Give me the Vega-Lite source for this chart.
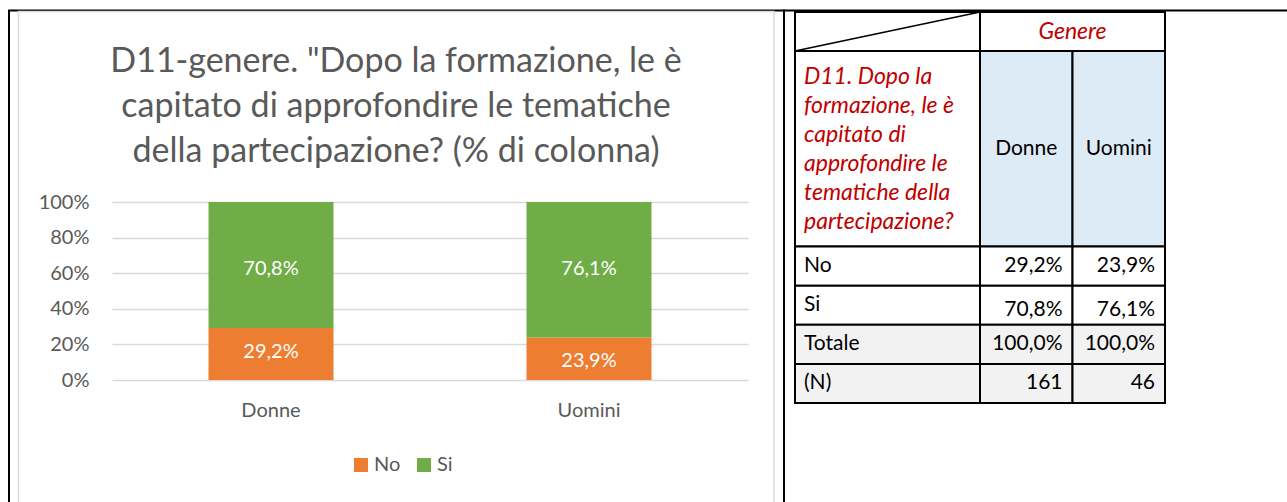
{
  "$schema": "https://vega.github.io/schema/vega-lite/v6.json",
  "width": 1287,
  "height": 502,
  "autosize": "none",
  "padding": 0,
  "background": "white",
  "config": {
    "font": "Lato",
    "view": {"stroke": null},
    "locale": {"number": {"decimal": ",", "thousands": ".", "grouping": [3], "currency": ["€", ""]}}
  },
  "title": {
    "text": ["D11-genere. \"Dopo la formazione, le è", "capitato di approfondire le tematiche", "della partecipazione? (% di colonna)"],
    "anchor": "middle",
    "frame": "group",
    "fontSize": 34,
    "fontWeight": "normal",
    "font": "Lato",
    "color": "#595959",
    "lineHeight": 45,
    "offset": -169,
    "dx": -247.5
  },
  "datasets": {
    "pagina": [{"cella": "grafico"}, {"cella": "tabella"}],
    "grafico": [
      {"genere": "Donne", "risposta": "No", "quota": 0.292},
      {"genere": "Donne", "risposta": "Si", "quota": 0.708},
      {"genere": "Uomini", "risposta": "No", "quota": 0.239},
      {"genere": "Uomini", "risposta": "Si", "quota": 0.761}
    ],
    "celle": [
      {"c0": "L1", "c1": "L2", "r0": "h", "r1": "h", "tipo": "bianco"},
      {"c0": "Donne", "c1": "Uomini", "r0": "h", "r1": "h", "tipo": "bianco"},
      {"c0": "L1", "c1": "L2", "r0": "q1", "r1": "q5", "tipo": "bianco"},
      {"c0": "Donne", "c1": "Donne", "r0": "q1", "r1": "q5", "tipo": "intestazione"},
      {"c0": "Uomini", "c1": "Uomini", "r0": "q1", "r1": "q5", "tipo": "intestazione"},
      {"c0": "L1", "c1": "L2", "r0": "No", "r1": "No", "tipo": "bianco"},
      {"c0": "Donne", "c1": "Donne", "r0": "No", "r1": "No", "tipo": "bianco"},
      {"c0": "Uomini", "c1": "Uomini", "r0": "No", "r1": "No", "tipo": "bianco"},
      {"c0": "L1", "c1": "L2", "r0": "Si", "r1": "Si", "tipo": "bianco"},
      {"c0": "Donne", "c1": "Donne", "r0": "Si", "r1": "Si", "tipo": "bianco"},
      {"c0": "Uomini", "c1": "Uomini", "r0": "Si", "r1": "Si", "tipo": "bianco"},
      {"c0": "L1", "c1": "L2", "r0": "Totale", "r1": "Totale", "tipo": "grigio"},
      {"c0": "Donne", "c1": "Donne", "r0": "Totale", "r1": "Totale", "tipo": "grigio"},
      {"c0": "Uomini", "c1": "Uomini", "r0": "Totale", "r1": "Totale", "tipo": "grigio"},
      {"c0": "L1", "c1": "L2", "r0": "N", "r1": "N", "tipo": "grigio"},
      {"c0": "Donne", "c1": "Donne", "r0": "N", "r1": "N", "tipo": "grigio"},
      {"c0": "Uomini", "c1": "Uomini", "r0": "N", "r1": "N", "tipo": "grigio"}
    ],
    "testi": [
      {"testo": "Genere", "col": "Uomini", "riga": "h", "ruolo": "titolo"},
      {"testo": "D11. Dopo la\nformazione, le è\ncapitato di\napprofondire le\ntematiche della\npartecipazione?", "col": "L1", "riga": "q1", "ruolo": "domanda"},
      {"testo": "Donne", "col": "Donne", "riga": "q3", "ruolo": "intestazione"},
      {"testo": "Uomini", "col": "Uomini", "riga": "q3", "ruolo": "intestazione"},
      {"testo": "No", "col": "L1", "riga": "No", "ruolo": "etichetta"},
      {"testo": "Si", "col": "L1", "riga": "Si", "ruolo": "etichetta"},
      {"testo": "Totale", "col": "L1", "riga": "Totale", "ruolo": "etichetta"},
      {"testo": "(N)", "col": "L1", "riga": "N", "ruolo": "etichetta"},
      {"testo": "29,2%", "col": "Donne", "riga": "No", "ruolo": "valore"},
      {"testo": "23,9%", "col": "Uomini", "riga": "No", "ruolo": "valore"},
      {"testo": "70,8%", "col": "Donne", "riga": "Si", "ruolo": "valore"},
      {"testo": "76,1%", "col": "Uomini", "riga": "Si", "ruolo": "valore"},
      {"testo": "100,0%", "col": "Donne", "riga": "Totale", "ruolo": "valore"},
      {"testo": "100,0%", "col": "Uomini", "riga": "Totale", "ruolo": "valore"},
      {"testo": "161", "col": "Donne", "riga": "N", "ruolo": "valore"},
      {"testo": "46", "col": "Uomini", "riga": "N", "ruolo": "valore"}
    ]
  },
  "layer": [
    {
      "data": {"name": "pagina"},
      "layer": [
        {
          "mark": {"type": "rect", "fill": "white", "fillOpacity": 0, "stroke": "black", "strokeWidth": 2},
          "encoding": {
            "x": {"field": "cella", "type": "nominal", "bandPosition": 0, "axis": null, "scale": {"domain": ["grafico", "tabella"], "range": [9, 1559], "paddingInner": 0, "paddingOuter": 0}},
            "x2": {"field": "cella", "bandPosition": 1},
            "y": {"datum": "pagina", "type": "nominal", "bandPosition": 0, "axis": null, "scale": {"domain": ["pagina"], "range": [10.5, 900], "paddingInner": 0, "paddingOuter": 0}},
            "y2": {"datum": "pagina", "bandPosition": 1}
          }
        },
        {
          "transform": [{"filter": "datum.cella === 'grafico'"}],
          "mark": {"type": "rect", "fill": "white", "fillOpacity": 0, "stroke": "#D9D9D9", "strokeWidth": 1.5},
          "encoding": {
            "x": {"field": "cella", "type": "nominal", "bandPosition": 0.0123},
            "x2": {"field": "cella", "bandPosition": 0.9871},
            "y": {"datum": "pagina", "type": "nominal", "bandPosition": 0.0012},
            "y2": {"datum": "pagina", "bandPosition": 1}
          }
        }
      ]
    },
    {
      "data": {"name": "grafico"},
      "layer": [
        {
          "mark": {"type": "bar"},
          "encoding": {
            "x": {
              "field": "genere", "type": "nominal",
              "scale": {"range": [112, 748], "paddingInner": 0.607, "paddingOuter": 0.3035},
              "axis": {"orient": "bottom", "title": null, "domain": false, "ticks": false, "tickSize": 0, "labelPadding": 0, "labelBaseline": "middle", "labelAngle": 0, "labelFontSize": 20, "labelColor": "#595959", "offset": -92, "grid": false}
            },
            "y": {
              "field": "quota", "type": "quantitative", "stack": "zero",
              "scale": {"domain": [0, 1], "range": [380, 202], "nice": false},
              "axis": {"orient": "left", "title": null, "values": [0, 0.2, 0.4, 0.6, 0.8, 1], "format": ".0%", "domain": false, "ticks": false, "tickSize": 0, "labelPadding": 0, "labelFontSize": 20, "labelColor": "#595959", "grid": true, "gridColor": "#D9D9D9", "gridWidth": 1.5, "offset": -89}
            },
            "color": {
              "field": "risposta", "type": "nominal",
              "scale": {"domain": ["No", "Si"], "range": ["#ED7D31", "#70AD47"]},
              "legend": {"title": null, "orient": "none", "legendX": 351, "legendY": 455, "direction": "horizontal", "symbolType": "square", "symbolSize": 196, "symbolStrokeWidth": 0, "labelFontSize": 20, "labelColor": "#595959", "labelOffset": 3, "columnPadding": 13}
            },
            "order": {"field": "risposta"}
          }
        },
        {
          "transform": [{"filter": "datum.risposta === 'No'"}],
          "mark": {"type": "text", "color": "white", "fontSize": 20, "baseline": "middle", "dy": 24},
          "encoding": {
            "x": {"field": "genere", "type": "nominal"},
            "y": {"field": "quota", "type": "quantitative", "stack": "zero"},
            "text": {"field": "quota", "type": "quantitative", "format": ".1%"}
          }
        },
        {
          "transform": [{"filter": "datum.risposta === 'Si'"}],
          "mark": {"type": "text", "color": "white", "fontSize": 20, "baseline": "middle", "dy": 67},
          "encoding": {
            "x": {"field": "genere", "type": "nominal"},
            "y": {"datum": 1, "type": "quantitative"},
            "text": {"field": "quota", "type": "quantitative", "format": ".1%"}
          }
        }
      ]
    },
    {
      "layer": [
        {
          "data": {"name": "celle"},
          "mark": {"type": "rect", "stroke": "black", "strokeWidth": 2},
          "encoding": {
            "x": {"field": "c0", "type": "nominal", "bandPosition": 0, "axis": null, "scale": {"domain": ["L1", "L2", "Donne", "Uomini"], "range": [795, 1165], "paddingInner": 0, "paddingOuter": 0}},
            "x2": {"field": "c1", "bandPosition": 1},
            "y": {"field": "r0", "type": "nominal", "bandPosition": 0, "axis": null, "scale": {"domain": ["h", "q1", "q2", "q3", "q4", "q5", "No", "Si", "Totale", "N"], "range": [12, 403], "paddingInner": 0, "paddingOuter": 0}},
            "y2": {"field": "r1", "bandPosition": 1},
            "fill": {"field": "tipo", "type": "nominal", "scale": {"domain": ["bianco", "intestazione", "grigio"], "range": ["#FFFFFF", "#DDEBF7", "#F2F2F2"]}, "legend": null}
          }
        },
        {
          "data": {"values": [{"c0": "L1", "c1": "L2", "r0": "h", "r1": "h"}]},
          "mark": {"type": "rule", "stroke": "black", "strokeWidth": 1.5},
          "encoding": {
            "x": {"field": "c0", "type": "nominal", "bandPosition": 0},
            "y": {"field": "r1", "type": "nominal", "bandPosition": 1},
            "x2": {"field": "c1", "bandPosition": 1},
            "y2": {"field": "r0", "bandPosition": 0}
          }
        },
        {
          "data": {"name": "testi"},
          "transform": [{"filter": "datum.ruolo === 'titolo'"}],
          "mark": {"type": "text", "fontSize": 23, "fontStyle": "italic", "color": "#C00000", "align": "center", "baseline": "middle"},
          "encoding": {
            "x": {"field": "col", "type": "nominal", "bandPosition": 0},
            "y": {"field": "riga", "type": "nominal", "bandPosition": 0.5},
            "text": {"field": "testo"}
          }
        },
        {
          "data": {"name": "testi"},
          "transform": [{"filter": "datum.ruolo === 'domanda'"}],
          "mark": {"type": "text", "fontSize": 23, "fontStyle": "italic", "color": "#C00000", "align": "left", "baseline": "middle", "lineBreak": "\n", "lineHeight": 29, "dx": 9, "dy": 6},
          "encoding": {
            "x": {"field": "col", "type": "nominal", "bandPosition": 0},
            "y": {"field": "riga", "type": "nominal", "bandPosition": 0.5},
            "text": {"field": "testo"}
          }
        },
        {
          "data": {"name": "testi"},
          "transform": [{"filter": "datum.ruolo === 'intestazione'"}],
          "mark": {"type": "text", "fontSize": 21, "color": "black", "align": "center", "baseline": "middle"},
          "encoding": {
            "x": {"field": "col", "type": "nominal", "bandPosition": 0.5},
            "y": {"field": "riga", "type": "nominal", "bandPosition": 0.5},
            "text": {"field": "testo"}
          }
        },
        {
          "data": {"name": "testi"},
          "transform": [{"filter": "datum.ruolo === 'etichetta'"}],
          "mark": {"type": "text", "fontSize": 21, "color": "black", "align": "left", "baseline": "middle", "dx": 9},
          "encoding": {
            "x": {"field": "col", "type": "nominal", "bandPosition": 0},
            "y": {"field": "riga", "type": "nominal", "bandPosition": 0.5},
            "text": {"field": "testo"}
          }
        },
        {
          "data": {"name": "testi"},
          "transform": [{"filter": "datum.ruolo === 'valore' && datum.riga !== 'Si'"}],
          "mark": {"type": "text", "fontSize": 21, "color": "black", "align": "right", "baseline": "middle", "dx": -10},
          "encoding": {
            "x": {"field": "col", "type": "nominal", "bandPosition": 1},
            "y": {"field": "riga", "type": "nominal", "bandPosition": 0.5},
            "text": {"field": "testo"}
          }
        },
        {
          "data": {"name": "testi"},
          "transform": [{"filter": "datum.ruolo === 'valore' && datum.riga === 'Si'"}],
          "mark": {"type": "text", "fontSize": 21, "color": "black", "align": "right", "baseline": "middle", "dx": -10, "dy": 5},
          "encoding": {
            "x": {"field": "col", "type": "nominal", "bandPosition": 1},
            "y": {"field": "riga", "type": "nominal", "bandPosition": 0.5},
            "text": {"field": "testo"}
          }
        }
      ]
    }
  ],
  "resolve": {"scale": {"x": "independent", "y": "independent"}}
}
